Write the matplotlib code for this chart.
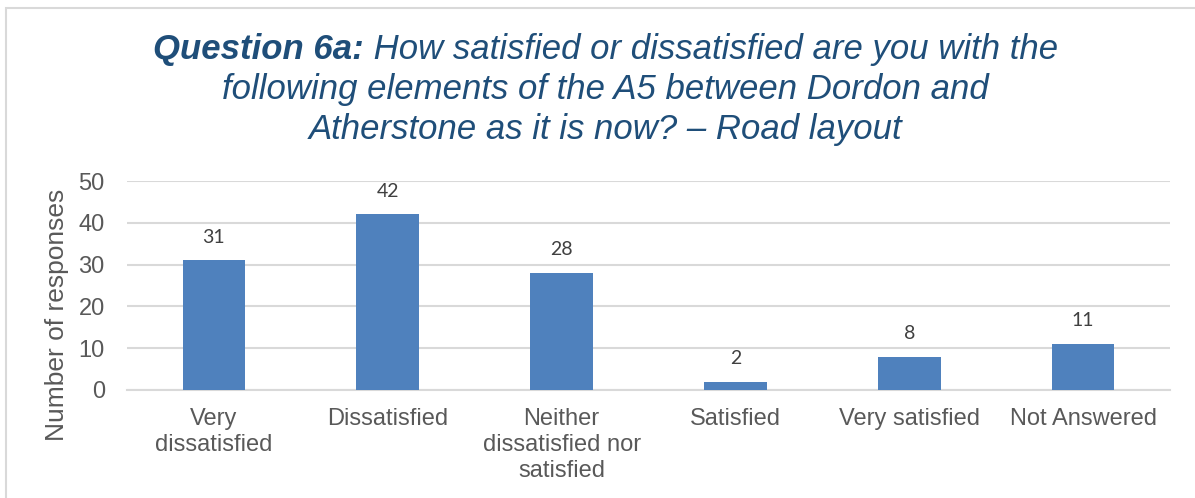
import matplotlib.pyplot as plt
from matplotlib.patches import Rectangle

categories = ["Very\ndissatisfied", "Dissatisfied", "Neither\ndissatisfied nor\nsatisfied",
              "Satisfied", "Very satisfied", "Not Answered"]
values = [31, 42, 28, 2, 8, 11]
yticks = [0, 10, 20, 30, 40, 50]

W, H = 1195, 498
fig = plt.figure(figsize=(W / 100, H / 100), dpi=100)
plt.rcParams['font.family'] = ['Liberation Sans', 'DejaVu Sans']

# outer border
fig.patches.append(Rectangle((6.5 / W, -0.1), 1.2, (H - 8.5) / H + 0.1, transform=fig.transFigure,
                             fill=False, edgecolor='#d9d9d9', linewidth=1.5))

ax = fig.add_axes([127 / W, 1 - 390 / H, (1170 - 127) / W, (390 - 181) / H])
x = list(range(len(categories)))
ax.bar(x, values, width=0.36, color='#4f81bd', zorder=3)
ax.set_xlim(-0.5, len(categories) - 0.5)
ax.set_ylim(0, 50)
ax.set_yticks(yticks)
ax.set_xticks(x)
ax.set_xticklabels(categories, fontsize=17, color='#595959', linespacing=1.22)
ax.tick_params(axis='both', length=0, labelsize=17, labelcolor='#595959')
ax.tick_params(axis='x', pad=13)
ax.tick_params(axis='y', pad=16)
ax.grid(axis='y', color='#d9d9d9', linewidth=1.5, zorder=0)
for s in ['top', 'right', 'left']:
    ax.spines[s].set_visible(False)
ax.spines['bottom'].set_color('#d9d9d9')
ax.spines['bottom'].set_linewidth(1.5)

for xi, v in zip(x, values):
    ax.text(xi, v + 5.6, str(v), ha='center', va='center', fontsize=14,
            color='#404040', family=['Lato', 'DejaVu Sans'])

fig.text(57 / W, 1 - 315 / H, "Number of responses", rotation=90, ha='center', va='center',
         fontsize=19, color='#595959')

title_color = '#1f4e79'
tsize = 25
cx = 605.5
t1a = fig.text(0, 1 - 49 / H, "Question 6a:", ha='left', va='center', fontsize=tsize,
               style='italic', weight='bold', color=title_color)
t1b = fig.text(0, 1 - 49 / H, " How satisfied or dissatisfied are you with the", ha='left',
               va='center', fontsize=tsize, style='italic', color=title_color)
fig.text(cx / W, 1 - 89 / H, "following elements of the A5 between Dordon and",
         ha='center', va='center', fontsize=tsize, style='italic', color=title_color)
fig.text(cx / W, 1 - 129 / H, "Atherstone as it is now? \u2013 Road layout",
         ha='center', va='center', fontsize=tsize, style='italic', color=title_color)

fig.canvas.draw()
r = fig.canvas.get_renderer()
wa = t1a.get_window_extent(r).width
wb = t1b.get_window_extent(r).width
start = cx - (wa + wb) / 2
t1a.set_x(start / W)
t1b.set_x((start + wa) / W)

fig.savefig('out.png', dpi=100)
